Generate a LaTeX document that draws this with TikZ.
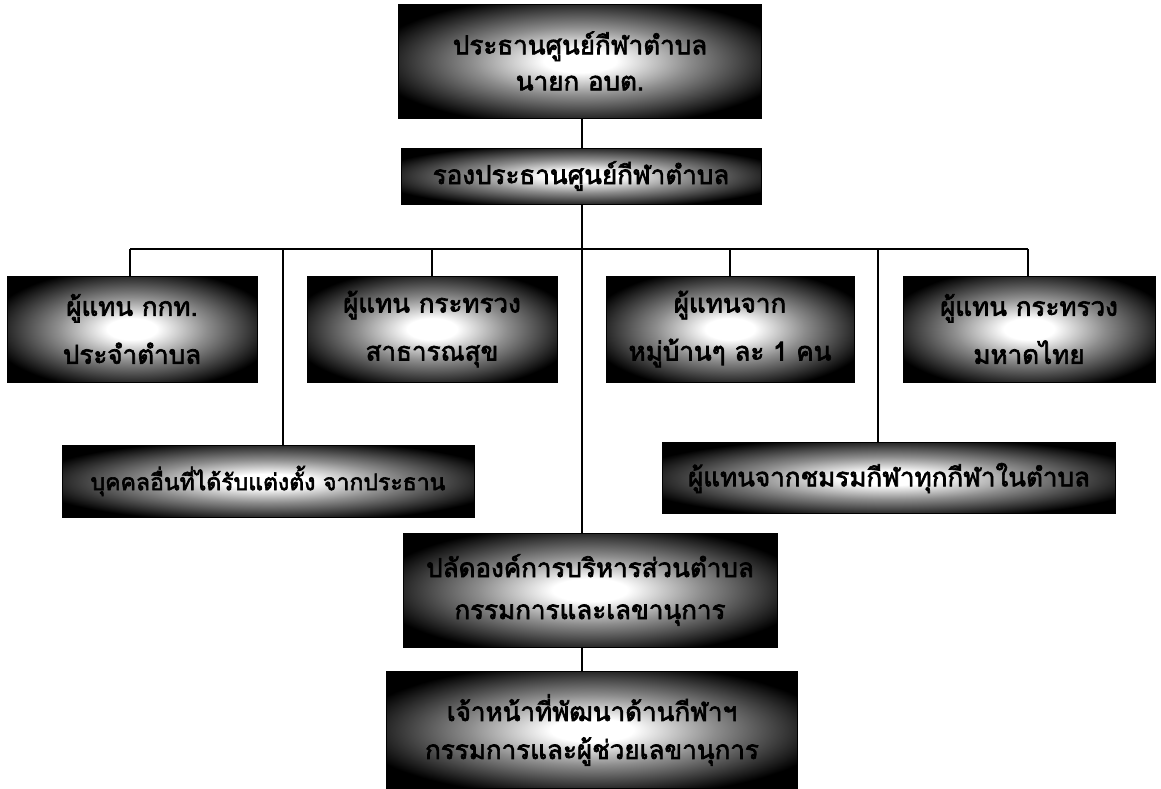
\documentclass[tikz,border=0pt]{standalone}
\usepackage{fontspec}
\newfontfamily\thaifont[Script=Thai,AutoFakeBold=2.5]{Loma}
\pgfdeclareradialshading{boxglow}{\pgfpoint{0bp}{0bp}}{color(0bp)=(white); color(5bp)=(white); color(15bp)=(black!45); color(29bp)=(black); color(50bp)=(black)}
\tikzset{
  orgbox/.style={rectangle, shading=boxglow, draw=black, line width=0.6pt, inner sep=0pt,
    align=center, font=\thaifont\bfseries\fontsize{26}{34}\selectfont},
  link/.style={line width=1.8pt, black}
}
\begin{document}
\begin{tikzpicture}[x=1pt,y=-1pt]
        \useasboundingbox (0,0) rectangle (1161,788);
        \fill[white] (0,0) rectangle (1161,788);
        % top of the chart
        \node[orgbox, minimum width=363, minimum height=114] (chair) at (580,61) {ประธานศูนย์กีฬาตำบล\\[2pt]นายก อบต.};
        \node[orgbox, minimum width=360, minimum height=56] (vice) at (581,176) {รองประธานศูนย์กีฬาตำบล};
        % members, first row
        \node[orgbox, minimum width=250, minimum height=106] (gkt) at (132,329) {ผู้แทน กกท.\\[14pt]ประจำตำบล};
        \node[orgbox, minimum width=250, minimum height=106] (health) at (432,329) {ผู้แทน กระทรวง\\[14pt]สาธารณสุข};
        \node[orgbox, minimum width=248, minimum height=106] (village) at (730,329) {ผู้แทนจาก\\[14pt]หมู่บ้านๆ ละ 1 คน};
        \node[orgbox, minimum width=252, minimum height=106] (interior) at (1029,329) {ผู้แทน กระทรวง\\[14pt]มหาดไทย};
        % members, second row
        \node[orgbox, minimum width=412, minimum height=72, font=\thaifont\bfseries\fontsize{23}{30}\selectfont] (others) at (268,481) {บุคคลอื่นที่ได้รับแต่งตั้ง จากประธาน};
        \node[orgbox, minimum width=453, minimum height=71] (clubs) at (889,478) {ผู้แทนจากชมรมกีฬาทุกกีฬาในตำบล};
        % secretaries
        \node[orgbox, minimum width=374, minimum height=114] (clerk) at (590,590) {ปลัดองค์การบริหารส่วนตำบล\\[8pt]กรรมการและเลขานุการ};
        \node[orgbox, minimum width=411, minimum height=117] (assist) at (592,730) {เจ้าหน้าที่พัฒนาด้านกีฬาฯ\\[4pt]กรรมการและผู้ช่วยเลขานุการ};
        % connectors
        \coordinate (hub) at (582,249);
        \coordinate (barL) at (130,249);
        \coordinate (barR) at (1028,249);
        \coordinate (tapL) at (283,249);
        \coordinate (tapR) at (878,249);
        \draw[link] (chair.south -| hub) -- (vice.north -| hub);
        \draw[link] (vice.south -| hub) -- (hub);
        \draw[link] (barL) -- (barR);
        \draw[link] (barL) -- (gkt.north -| barL);
        \draw[link] (health.north |- hub) -- (health.north);
        \draw[link] (village.north |- hub) -- (village.north);
        \draw[link] (barR) -- (interior.north -| barR);
        \draw[link] (tapL) -- (others.north -| tapL);
        \draw[link] (tapR) -- (clubs.north -| tapR);
        \draw[link] (hub) -- (clerk.north -| hub);
        \draw[link] (clerk.south -| hub) -- (assist.north -| hub);
\end{tikzpicture}
\end{document}
